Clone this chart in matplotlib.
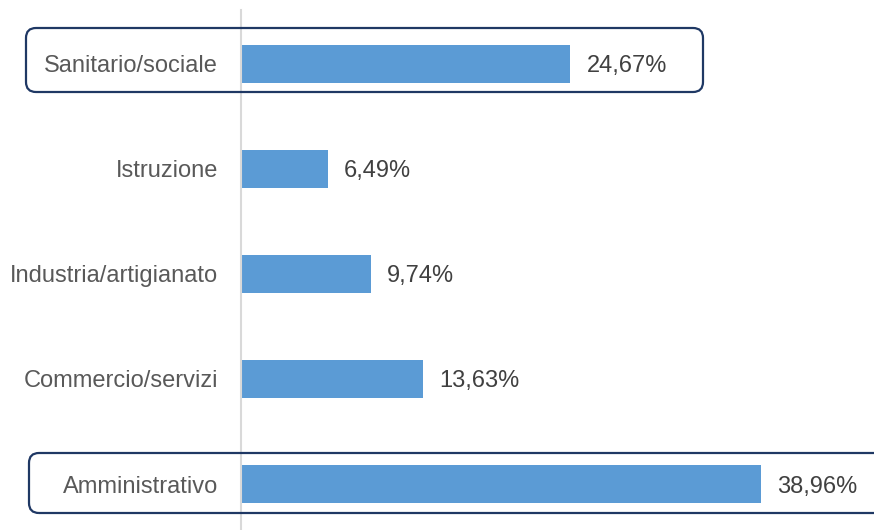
import matplotlib
matplotlib.use('Agg')
import matplotlib.pyplot as plt
from matplotlib.patches import FancyBboxPatch

plt.rcParams['font.family'] = ['Liberation Sans', 'DejaVu Sans']

categories = ["Sanitario/sociale", "Istruzione", "Industria/artigianato",
              "Commercio/servizi", "Amministrativo"]
values = [24.67, 6.49, 9.74, 13.63, 38.96]
highlighted = ["Sanitario/sociale", "Amministrativo"]

W, H = 874, 530
fig = plt.figure(figsize=(W / 100, H / 100), dpi=100)
ax = fig.add_axes([241 / W, 0, 1 - 241 / W, 1 - 10 / H])

pos = list(range(len(categories)))
ax.barh(pos, values, height=0.36, color='#5B9BD5')
ax.set_xlim(0, 47.4)
ax.set_ylim(4.438, -0.514)

for p, v in zip(pos, values):
    ax.annotate(f"{v:.2f}%".replace('.', ','), (v, p), xytext=(16, 0),
                textcoords='offset pixels', va='center_baseline', ha='left',
                fontsize=17, color='#404040')

ax.set_yticks(pos)
ax.set_yticklabels(categories, fontsize=17, color='#595959',
                   va='center_baseline')
ax.tick_params(axis='y', length=0, pad=16.5)
ax.set_xticks([])
for side in ['top', 'right', 'bottom']:
    ax.spines[side].set_visible(False)
ax.spines['left'].set_color('#D9D9D9')
ax.spines['left'].set_linewidth(1.5)

# rounded frames around the two highlighted rows (pixel boxes: x0, top, x1, bottom)
frames = {"Sanitario/sociale": (26, 28, 703, 92),
          "Amministrativo": (29, 453, 900, 513)}
for name in highlighted:
    x0, top, x1, bot = frames[name]
    box = FancyBboxPatch((x0 / W, 1 - bot / H), (x1 - x0) / W, (bot - top) / H,
                         boxstyle=f"round,pad=0,rounding_size={10 / W}",
                         transform=fig.transFigure, fill=False,
                         edgecolor='#1F3864', linewidth=1.6, clip_on=False,
                         mutation_aspect=W / H)
    fig.patches.append(box)

fig.savefig('out.png', dpi=100)
